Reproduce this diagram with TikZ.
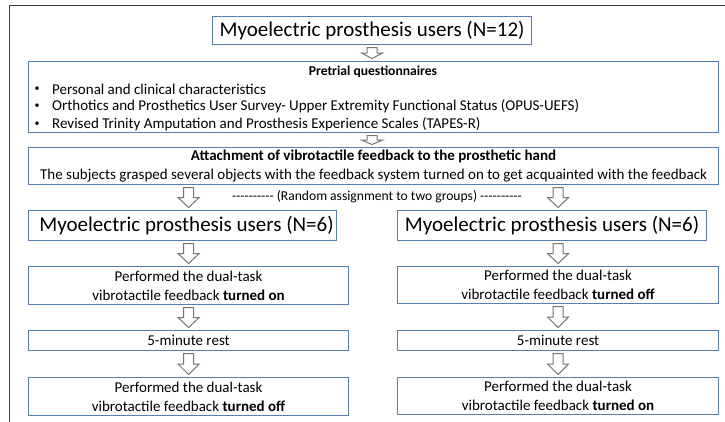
\documentclass[tikz,border=0pt]{standalone}
\usepackage{fontspec}
\setmainfont{Carlito}
\usetikzlibrary{calc}
\definecolor{boxblue}{RGB}{86,126,176}
\definecolor{arrowgray}{RGB}{118,118,118}
\definecolor{framegray}{RGB}{60,60,60}

% a run of ten plain hyphens (no dash ligatures)
\newcommand\hyphenrun{-{}-{}-{}-{}-{}-{}-{}-{}-{}-{}}

% hollow block arrow from #1 down to #2, centred on the x of node #3
\newcommand\hollowdown[3]{%
  \draw[hollowarrow] let \p1=(#1.south), \p2=(#2.north), \p3=(#3.north),
    \n1={\y1-2.5pt}, \n2={\y2+2.5pt}, \n3={\n2+0.5*(\n1-\n2)} in
    (\x3-5pt,\n1) -- (\x3+5pt,\n1) -- (\x3+5pt,\n3) -- (\x3+10.5pt,\n3)
    -- (\x3,\n2) -- (\x3-10.5pt,\n3) -- (\x3-5pt,\n3) -- cycle;}

\begin{document}
\begin{tikzpicture}[x=1pt,y=-1pt,
  box/.style={draw=boxblue, line width=1.1pt, inner sep=0pt, anchor=north west,
    align=center, font=\fontsize{15}{19}\selectfont},
  bigtext/.style={font=\fontsize{21}{24}\selectfont},
  bodytext/.style={inner sep=0pt, font=\fontsize{15}{17}\selectfont},
  hollowarrow/.style={draw=arrowgray, fill=white, line width=1pt, line join=miter}]
  \useasboundingbox (0,0) rectangle (725,422);
  \fill[white] (0,0) rectangle (725,422);
  \draw[framegray, line width=1.5pt] (9.5,422) -- (9.5,5.5) -- (725,5.5);

  % top box
  \node[box, bigtext, minimum width=319, minimum height=28] (top) at (212,16)
    {Myoelectric prosthesis users (N=12)};

  % pretrial questionnaires
  \node[box, minimum width=690, minimum height=71] (pre) at (28,61) {};
  \node[bodytext, font=\fontsize{13.6}{17}\selectfont\bfseries] (pretitle) at (373,72)
    {Pretrial questionnaires};
  \foreach \yy/\txt [count=\i] in {89/Personal and clinical characteristics,
      106.5/Orthotics and Prosthetics User Survey- Upper Extremity Functional Status (OPUS-UEFS),
      124/Revised Trinity Amputation and Prosthesis Experience Scales (TAPES-R)} {
    \node[bodytext, font=\fontsize{10}{12}\selectfont] (bul\i) at (37,\yy) {•};
    \node[bodytext, anchor=west] (item\i) at (52,\yy) {\txt};
  }

  % attachment box
  \node[box, minimum width=690, minimum height=37] (att) at (28,147)
    {\textbf{Attachment of vibrotactile feedback to the prosthetic hand}\\
     The subjects grasped several objects with the feedback system turned on to get acquainted with the feedback};

  \node[inner sep=0pt, font=\fontsize{13.6}{15}\selectfont] (rand) at (377,197)
    {\hyphenrun\ (Random assignment to two groups) \hyphenrun};

  % two groups
  \node[box, bigtext, minimum width=308, minimum height=30] (gL) at (28,210)
    {\hspace*{8pt}Myoelectric prosthesis users (N=6)};
  \node[box, bigtext, minimum width=309, minimum height=30] (gR) at (397,210)
    {Myoelectric prosthesis users (N=6)};

  \node[box, minimum width=320, minimum height=38] (pL1) at (28,266)
    {Performed the dual-task\\ vibrotactile feedback \textbf{turned on}};
  \node[box, minimum width=321, minimum height=37] (pR1) at (397,266)
    {Performed the dual-task\\ vibrotactile feedback \textbf{turned off}};

  \node[box, minimum width=320, minimum height=20] (rL) at (28,330) {5-minute rest};
  \node[box, minimum width=321, minimum height=20] (rR) at (397,330) {5-minute rest};

  \node[box, minimum width=320, minimum height=38] (pL2) at (28,377)
    {Performed the dual-task\\ vibrotactile feedback \textbf{turned off}};
  \node[box, minimum width=321, minimum height=37] (pR2) at (397,377)
    {Performed the dual-task\\ vibrotactile feedback \textbf{turned on}};

  % connectors
  \hollowdown{top}{pre}{top}
  \hollowdown{pre}{att}{top}
  \hollowdown{att}{gL}{pL1}
  \hollowdown{att}{gR}{pR1}
  \hollowdown{gL}{pL1}{pL1}
  \hollowdown{gR}{pR1}{pR1}
  \hollowdown{pL1}{rL}{pL1}
  \hollowdown{pR1}{rR}{pR1}
  \hollowdown{rL}{pL2}{pL1}
  \hollowdown{rR}{pR2}{pR1}
\end{tikzpicture}
\end{document}
